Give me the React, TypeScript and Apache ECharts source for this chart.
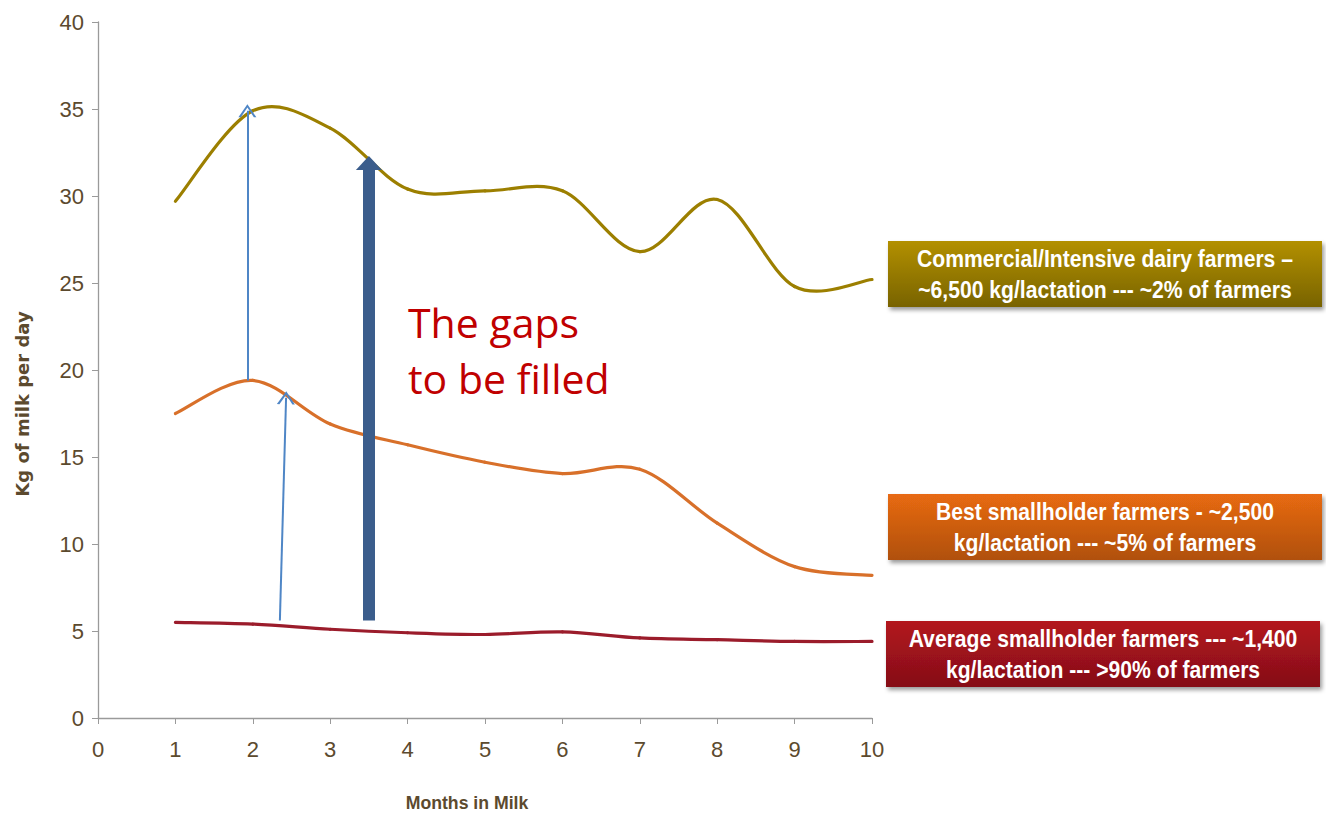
import React, { useEffect, useRef } from "react";
import * as echarts from "echarts";

// Months in milk on the x axis
const months = [1, 2, 3, 4, 5, 6, 7, 8, 9, 10];

// Daily milk yield (kg) for each farmer group
const commercial = [29.7, 34.9, 33.9, 30.4, 30.3, 30.3, 26.8, 29.8, 24.8, 25.2];
const bestSmallholder = [17.5, 19.4, 16.9, 15.7, 14.7, 14.05, 14.3, 11.2, 8.7, 8.2];
const averageSmallholder = [5.5, 5.4, 5.1, 4.9, 4.8, 4.95, 4.6, 4.5, 4.4, 4.4];

// Gap arrows (month, kg) start and end
const thinArrows = [
  { from: [1.93, 19.4], to: [1.93, 34.9] },
  { from: [2.35, 5.6], to: [2.43, 18.4] },
];
const thickArrow = { from: [3.5, 5.6], to: [3.5, 31.9] };

const groupLabels = [
  {
    text: "Commercial/Intensive dairy farmers –\n~6,500 kg/lactation --- ~2% of farmers",
    top: 241,
    left: 888,
    colors: ["#B39000", "#786300"],
  },
  {
    text: "Best smallholder farmers - ~2,500\nkg/lactation --- ~5% of farmers",
    top: 494,
    left: 888,
    colors: ["#E86A12", "#B0500E"],
  },
  {
    text: "Average smallholder farmers --- ~1,400\nkg/lactation --- >90% of farmers",
    top: 621,
    left: 886,
    colors: ["#B3161F", "#850E17"],
  },
];

const sansFont = '"Liberation Sans", Arial, sans-serif';
const brown = "#5C4A2E";

const pairs = (ys: number[]) => months.map((m, i) => [m, ys[i]]);

const chevron = "path://M0,10 L5,0 L10,10 L8.6,10 L5,2.6 L1.4,10 Z";

// Smooth curve through the points (Catmull-Rom segments as cubic beziers)
const smoothSeries = (name: string, ys: number[], color: string) => ({
  name,
  type: "custom",
  data: pairs(ys),
  z: 3,
  silent: true,
  renderItem: (params: any, api: any) => {
    const i = params.dataIndexInside;
    const n = params.dataInsideLength;
    if (i >= n - 1) return null;
    const pt = (k: number) => {
      const j = Math.max(0, Math.min(n - 1, k));
      return api.coord([api.value(0, j), api.value(1, j)]);
    };
    const p0 = pt(i - 1);
    const p1 = pt(i);
    const p2 = pt(i + 1);
    const p3 = pt(i + 2);
    return {
      type: "bezierCurve",
      shape: {
        x1: p1[0],
        y1: p1[1],
        cpx1: p1[0] + (p2[0] - p0[0]) / 6,
        cpy1: p1[1] + (p2[1] - p0[1]) / 6,
        cpx2: p2[0] - (p3[0] - p1[0]) / 6,
        cpy2: p2[1] - (p3[1] - p1[1]) / 6,
        x2: p2[0],
        y2: p2[1],
      },
      style: { stroke: color, lineWidth: 3.2, fill: "none", lineCap: "round" },
    };
  },
});

export default function App() {
  const ref = useRef<HTMLDivElement>(null);

  useEffect(() => {
    if (!ref.current) return;
    const chart = echarts.init(ref.current, null, { renderer: "svg" });

    chart.setOption({
      animation: false,
      backgroundColor: "#ffffff",
      grid: { left: 98, right: 454, top: 22, bottom: 104 },
      xAxis: {
        type: "value",
        min: 0,
        max: 10,
        interval: 1,
        axisLine: { show: true, lineStyle: { color: "#9A9A9A", width: 1.3 } },
        axisTick: { show: true, inside: false, length: 6, lineStyle: { color: "#9A9A9A" } },
        axisLabel: { color: brown, fontSize: 22, fontFamily: sansFont, margin: 20 },
        splitLine: { show: false },
      },
      yAxis: {
        type: "value",
        min: 0,
        max: 40,
        interval: 5,
        axisLine: { show: true, lineStyle: { color: "#9A9A9A", width: 1.3 } },
        axisTick: { show: true, inside: false, length: 6, lineStyle: { color: "#9A9A9A" } },
        axisLabel: { color: brown, fontSize: 22, fontFamily: sansFont, margin: 14 },
        splitLine: { show: false },
      },
      series: [
        smoothSeries("Commercial/Intensive dairy farmers", commercial, "#9C7F00"),
        smoothSeries("Best smallholder farmers", bestSmallholder, "#D8702A"),
        smoothSeries("Average smallholder farmers", averageSmallholder, "#9B1C2B"),
        {
          name: "gap arrows",
          type: "line",
          data: [],
          z: 4,
          markLine: {
            silent: true,
            animation: false,
            label: { show: false },
            emphasis: { disabled: true },
            symbol: ["none", chevron],
            symbolSize: [18, 13],
            lineStyle: { color: "#4F86C6", width: 2, type: "solid" },
            data: thinArrows.map((a) => [{ coord: a.from }, { coord: a.to }]),
          },
        },
        {
          name: "main gap arrow",
          type: "line",
          data: [],
          z: 5,
          markLine: {
            silent: true,
            animation: false,
            label: { show: false },
            emphasis: { disabled: true },
            symbol: ["none", "triangle"],
            symbolSize: [26, 14],
            lineStyle: { color: "#3B5D8C", width: 12, type: "solid", cap: "butt" },
            data: [[{ coord: thickArrow.from }, { coord: thickArrow.to }]],
          },
        },
      ],
      graphic: [
        {
          type: "text",
          x: 22,
          y: 404,
          rotation: Math.PI / 2,
          style: {
            text: "Kg of milk per day",
            fill: brown,
            font: 'bold 18px "DejaVu Sans", sans-serif',
            align: "center",
            verticalAlign: "middle",
          },
        },
        {
          type: "text",
          x: 467,
          y: 802,
          scaleX: 0.93,
          style: {
            text: "Months in Milk",
            fill: brown,
            font: `bold 19px ${sansFont}`,
            align: "center",
            verticalAlign: "middle",
          },
        },
        {
          type: "text",
          left: 408,
          top: 294,
          style: {
            text: "The gaps\nto be filled",
            fill: "#C00000",
            font: '41px "Open Sans", "Noto Sans", sans-serif',
            lineHeight: 56,
          },
        },
        ...groupLabels.map((g) => ({
          type: "group",
          left: g.left,
          top: g.top,
          children: [
            {
              type: "rect",
              shape: { x: 0, y: 0, width: 434, height: 66 },
              style: {
                fill: new echarts.graphic.LinearGradient(0, 0, 0, 1, [
                  { offset: 0, color: g.colors[0] },
                  { offset: 1, color: g.colors[1] },
                ]),
                shadowBlur: 4,
                shadowOffsetX: 2,
                shadowOffsetY: 3,
                shadowColor: "rgba(0,0,0,0.4)",
              },
            },
            {
              type: "text",
              x: 217,
              y: 34,
              scaleX: 0.92,
              style: {
                text: g.text,
                fill: "#ffffff",
                font: `bold 23px ${sansFont}`,
                lineHeight: 31,
                align: "center",
                verticalAlign: "middle",
              },
            },
          ],
        })),
      ],
    });

    return () => chart.dispose();
  }, []);

  return (
    <div
      ref={ref}
      style={{ position: "fixed", left: 0, top: 0, width: 1326, height: 822 }}
    />
  );
}
